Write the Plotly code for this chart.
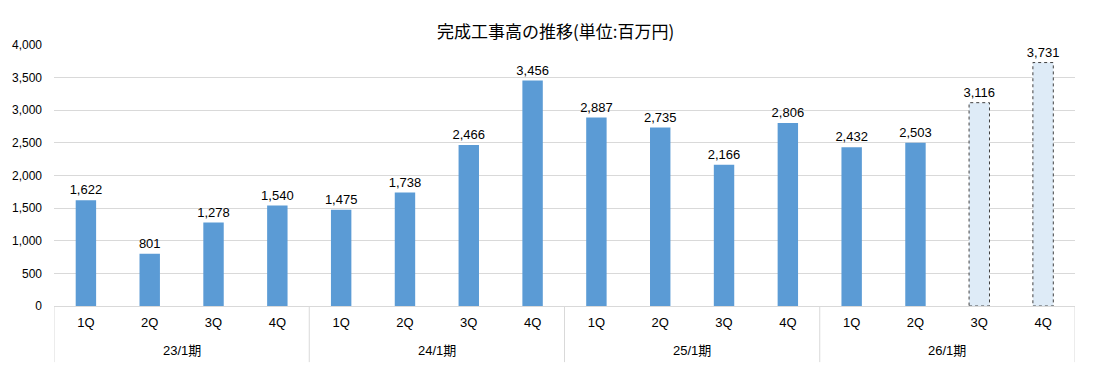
import plotly.graph_objects as go

periods = ["23/1期", "24/1期", "25/1期", "26/1期"]
quarters = ["1Q", "2Q", "3Q", "4Q"]
values = [1622, 801, 1278, 1540, 1475, 1738, 2466, 3456,
          2887, 2735, 2166, 2806, 2432, 2503, 3116, 3731]
is_forecast = [False] * 14 + [True, True]

title = "完成工事高の推移(単位:百万円)"
y_ticks = list(range(0, 4001, 500))

ACT = "#5B9BD5"
FC = "#DEEBF7"
BAR_W = 0.32

xs = list(range(len(values)))
tick_text = [q for _ in periods for q in quarters]
colors = [FC if f else ACT for f in is_forecast]

FONT = "Liberation Sans, Arial, Noto Sans CJK JP, sans-serif"

fig = go.Figure()
fig.add_trace(go.Bar(
    x=xs, y=values, width=BAR_W,
    marker=dict(color=colors, line=dict(width=0)),
    text=[f"{v:,}" for v in values], textposition="outside",
    constraintext="none",
    textfont=dict(size=13, color="#000000", family=FONT),
    cliponaxis=False, hoverinfo="skip",
))

shapes = []
# dotted outlines for forecast bars, derived from data
for i, (v, f) in enumerate(zip(values, is_forecast)):
    if f:
        shapes.append(dict(type="rect", xref="x", yref="y",
                           x0=i - BAR_W / 2, x1=i + BAR_W / 2, y0=0, y1=v,
                           line=dict(color="#404040", width=1, dash="dot"),
                           fillcolor="rgba(0,0,0,0)"))
# group dividers
n = len(quarters)
for k in range(len(periods) + 1):
    xv = k * n - 0.5
    shapes.append(dict(type="line", xref="x", yref="paper",
                       x0=xv, x1=xv, y0=0, y1=-0.215,
                       line=dict(color="#D9D9D9", width=1)))

annotations = []
for k, p in enumerate(periods):
    annotations.append(dict(x=k * n + (n - 1) / 2, y=-0.172, xref="x", yref="paper",
                            text=p, showarrow=False, yanchor="middle",
                            font=dict(size=13, color="#000000", family=FONT)))
annotations.append(dict(x=0.491, y=1.055, xref="paper", yref="paper",
                        text=title, showarrow=False, yanchor="middle",
                        font=dict(size=17, color="#000000", family="Noto Sans CJK JP, sans-serif")))

fig.update_layout(
    width=1093, height=366,
    margin=dict(l=51, r=18, t=45, b=60),
    plot_bgcolor="white", paper_bgcolor="white",
    showlegend=False,
    bargap=0.68,
    shapes=shapes, annotations=annotations,
    font=dict(family=FONT, color="#000000"),
)
fig.update_xaxes(
    range=[-0.5, len(values) - 0.5],
    tickmode="array", tickvals=xs, ticktext=tick_text,
    tickfont=dict(size=13, color="#000000", family=FONT),
    showgrid=False, showline=True, linecolor="#D9D9D9", linewidth=1,
    ticks="", ticklabelstandoff=4, zeroline=False,
)
fig.update_yaxes(
    range=[0, 4000], tickmode="array", tickvals=y_ticks,
    ticktext=[f"{t:,}" for t in y_ticks],
    tickfont=dict(size=12, color="#000000", family=FONT),
    showgrid=True, gridcolor="#D9D9D9", gridwidth=1,
    zeroline=False, showline=False, ticks="", ticklabelstandoff=11,
)

fig.write_html("out.html", config={"displayModeBar": False},
               post_script="document.body.style.margin='0px';")
